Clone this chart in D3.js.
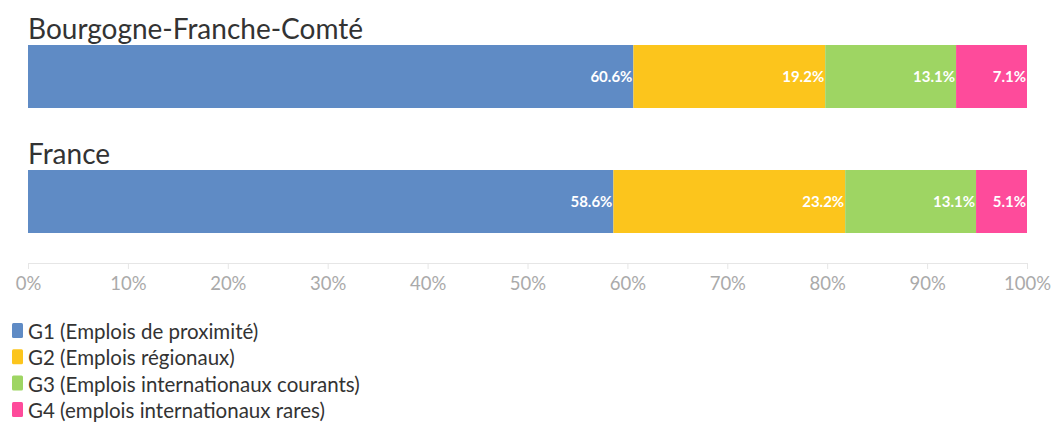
<!DOCTYPE html>
<html>
<head>
<meta charset="utf-8">
<script src="https://cdn.jsdelivr.net/npm/d3@7"></script>
<style>
  html, body { margin: 0; padding: 0; background: #fff; }
  svg { display: block; font-family: Lato, "Open Sans", sans-serif; }
</style>
</head>
<body>
<div id="chart"></div>
<script>
// regions (one bar each) and share of jobs by group, in %
const regions = ["Bourgogne-Franche-Comté", "France"];
const groups = ["G1", "G2", "G3", "G4"];
const groupLabels = [
  "G1 (Emplois de proximité)",
  "G2 (Emplois régionaux)",
  "G3 (Emplois internationaux courants)",
  "G4 (emplois internationaux rares)"
];
const valuesBFC = [60.6, 19.2, 13.1, 7.1];
const valuesFrance = [58.6, 23.2, 13.1, 5.1];
const ticks = [0, 10, 20, 30, 40, 50, 60, 70, 80, 90, 100];

const colors = ["#5f8bc5", "#fcc51c", "#9ed563", "#fe4b9b"];
const W = 1055, H = 423;

const svg = d3.select("#chart").append("svg")
  .attr("width", W).attr("height", H);

const x = d3.scaleLinear().domain([0, 100]).range([28, 1027]);

const rows = [valuesBFC, valuesFrance].map((vals, i) => {
  let acc = 0;
  return {
    name: regions[i],
    segs: vals.map((v, j) => ({ g: groups[j], v, x0: acc, x1: (acc += v), c: colors[j] }))
  };
});

const rowTop = [45, 170], barH = 63;

rows.forEach((r, i) => {
  const g = svg.append("g");
  g.append("text")
    .attr("x", 28).attr("y", rowTop[i] - 6)
    .attr("font-size", 28).attr("fill", "#333")
    .text(r.name);

  g.selectAll("rect").data(r.segs).join("rect")
    .attr("x", d => x(d.x0))
    .attr("y", rowTop[i])
    .attr("width", d => x(d.x1) - x(d.x0))
    .attr("height", barH)
    .attr("fill", d => d.c);

  g.selectAll("text.val").data(r.segs).join("text")
    .attr("class", "val")
    .attr("x", d => x(d.x1) - 1)
    .attr("y", rowTop[i] + barH / 2 + 5.5)
    .attr("text-anchor", "end")
    .attr("font-size", 15).attr("font-weight", 700)
    .attr("fill", "#fff")
    .text(d => d.v.toFixed(1) + "%");
});

// x axis
const axis = svg.append("g").attr("transform", "translate(0,263)")
  .call(d3.axisBottom(x).tickValues(ticks).tickFormat(d => d + "%").tickSize(6).tickPadding(8));
axis.select(".domain").attr("stroke", "#e6e6e6");
axis.selectAll(".tick line").attr("stroke", "#e6e6e6");
axis.selectAll(".tick text")
  .attr("fill", "#aaa").attr("font-size", 18.5)
  .attr("font-family", "Lato, 'Open Sans', sans-serif");

// legend
const leg = svg.append("g");
groupLabels.forEach((lab, i) => {
  const y = 339 + i * 26.3;
  leg.append("rect")
    .attr("x", 12).attr("y", y - 16).attr("width", 11).attr("height", 15)
    .attr("rx", 1.5).attr("fill", colors[i]);
  leg.append("text")
    .attr("x", 28).attr("y", y)
    .attr("font-size", 20.5).attr("fill", "#333")
    .text(lab);
});
</script>
</body>
</html>
